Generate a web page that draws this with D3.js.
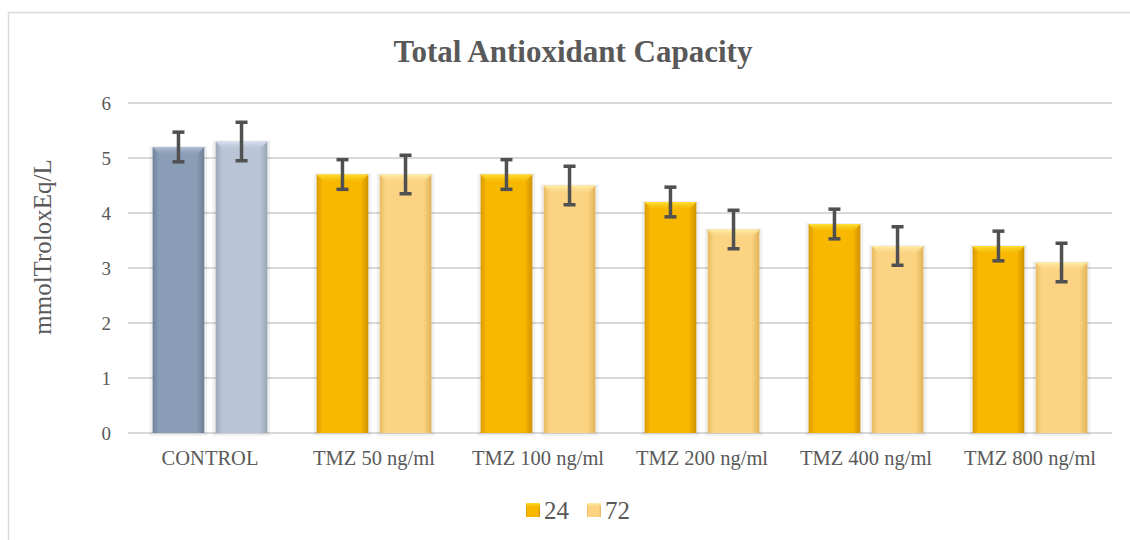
<!DOCTYPE html>
<html>
<head>
<meta charset="utf-8">
<script src="https://cdn.jsdelivr.net/npm/d3@7"></script>
<style>
  body { margin: 0; background: #fff; }
  text { font-family: "Liberation Serif", "Times New Roman", serif; fill: #595959; }
</style>
</head>
<body>
<div id="chart"></div>
<script>
// data
var categories = ["CONTROL", "TMZ 50 ng/ml", "TMZ 100 ng/ml", "TMZ 200 ng/ml", "TMZ 400 ng/ml", "TMZ 800 ng/ml"];
var series = ["24", "72"];
var values24 = [5.2, 4.7, 4.7, 4.2, 3.8, 3.4];
var values72 = [5.3, 4.7, 4.5, 3.7, 3.4, 3.1];
var errors24 = [0.27, 0.27, 0.27, 0.27, 0.27, 0.27];
var errors72 = [0.35, 0.35, 0.35, 0.35, 0.35, 0.35];
var yTicks = [0, 1, 2, 3, 4, 5, 6];

var w = 1130, h = 540;

var svg = d3.select("#chart").append("svg")
    .attr("width", w)
    .attr("height", h);

// gradients for the bevelled bars
var defs = svg.append("defs");
var palettes = {
    c24: ["#6f829b", "#8a9db6", "#6d7f96"],
    c72: ["#9aa7b9", "#b9c5d7", "#99a5b6"],
    g24: ["#d99a00", "#f8b800", "#cf9200"],
    g72: ["#e9bb62", "#fbd382", "#e2b25a"]
};
var tops = { c24: "#b4c3d6", c72: "#dce4ef", g24: "#ffe23a", g72: "#fff0a8" };
Object.keys(palettes).forEach(function(k) {
    var g = defs.append("linearGradient").attr("id", "side-" + k)
        .attr("x1", 0).attr("x2", 1).attr("y1", 0).attr("y2", 0);
    g.append("stop").attr("offset", "0%").attr("stop-color", palettes[k][0]);
    g.append("stop").attr("offset", "12%").attr("stop-color", palettes[k][1]);
    g.append("stop").attr("offset", "85%").attr("stop-color", palettes[k][1]);
    g.append("stop").attr("offset", "100%").attr("stop-color", palettes[k][2]);
    var t = defs.append("linearGradient").attr("id", "top-" + k)
        .attr("x1", 0).attr("x2", 0).attr("y1", 0).attr("y2", 1);
    t.append("stop").attr("offset", "0%").attr("stop-color", tops[k]);
    t.append("stop").attr("offset", "100%").attr("stop-color", palettes[k][1]).attr("stop-opacity", 0);
});

// outer frame
svg.append("rect")
    .attr("x", 8.5).attr("y", 12.5)
    .attr("width", w).attr("height", h)
    .attr("fill", "none")
    .attr("stroke", "#d9d9d9")
    .attr("stroke-width", 1.5);

var x = d3.scaleBand().domain(categories).range([128, 1112])
    .paddingInner(0.3).paddingOuter(0.15);
var xs = d3.scaleBand().domain(series).range([0, x.bandwidth()]).paddingInner(0.18);
var y = d3.scaleLinear().domain([0, 6]).range([433, 103]);

// grid
svg.append("g").selectAll("line").data(yTicks).enter().append("line")
    .attr("x1", 128).attr("x2", 1112)
    .attr("y1", function(d) { return y(d); })
    .attr("y2", function(d) { return y(d); })
    .attr("stroke", "#d9d9d9")
    .attr("stroke-width", 2);

// y axis labels
var yAxis = svg.append("g").attr("transform", "translate(111,0)")
    .call(d3.axisLeft(y).tickValues(yTicks).tickFormat(d3.format("d")).tickSize(0).tickPadding(0));
yAxis.select(".domain").remove();
yAxis.selectAll("text").attr("font-size", 19).attr("fill", "#595959")
    .style("font-family", "Liberation Serif");

// x axis labels
var xAxis = svg.append("g").attr("transform", "translate(0,450)")
    .call(d3.axisBottom(x).tickSize(0).tickPadding(0));
xAxis.select(".domain").remove();
xAxis.selectAll("text").attr("font-size", 20.5).attr("fill", "#595959")
    .style("font-family", "Liberation Serif");

// bars
var rows = [];
categories.forEach(function(c, i) {
    var grp = i === 0 ? "c" : "g";
    rows.push({ cat: c, s: "24", v: values24[i], e: errors24[i], k: grp + "24" });
    rows.push({ cat: c, s: "72", v: values72[i], e: errors72[i], k: grp + "72" });
});

var bars = svg.append("g").selectAll("g").data(rows).enter().append("g")
    .attr("transform", function(d) { return "translate(" + (x(d.cat) + xs(d.s)) + ",0)"; });

var bw = xs.bandwidth();

// soft shadow
bars.append("rect")
    .attr("x", -3).attr("width", bw + 6)
    .attr("y", function(d) { return y(d.v) - 1; })
    .attr("height", function(d) { return y(0) - y(d.v) + 4; })
    .attr("fill", "#000").attr("opacity", 0.06);

bars.append("rect")
    .attr("x", 0).attr("width", bw)
    .attr("y", function(d) { return y(d.v); })
    .attr("height", function(d) { return y(0) - y(d.v); })
    .attr("fill", function(d) { return "url(#side-" + d.k + ")"; });

bars.append("path")
    .attr("d", function(d) {
        var t = y(d.v);
        return "M0," + t + "H" + bw + "L" + (bw - 8) + "," + (t + 9) + "H8Z";
    })
    .attr("fill", function(d) { return "url(#top-" + d.k + ")"; });

// error bars
var err = bars.append("g").attr("stroke", "#505050").attr("stroke-width", 3.5);
err.append("line")
    .attr("x1", bw / 2).attr("x2", bw / 2)
    .attr("y1", function(d) { return y(d.v + d.e); })
    .attr("y2", function(d) { return y(d.v - d.e); });
err.append("line")
    .attr("x1", bw / 2 - 6).attr("x2", bw / 2 + 6)
    .attr("y1", function(d) { return y(d.v + d.e); })
    .attr("y2", function(d) { return y(d.v + d.e); });
err.append("line")
    .attr("x1", bw / 2 - 6).attr("x2", bw / 2 + 6)
    .attr("y1", function(d) { return y(d.v - d.e); })
    .attr("y2", function(d) { return y(d.v - d.e); });

// title
svg.append("text")
    .attr("x", 573).attr("y", 62)
    .attr("text-anchor", "middle")
    .attr("font-size", 31).attr("font-weight", "bold")
    .text("Total Antioxidant Capacity");

// y title
svg.append("text")
    .attr("transform", "translate(51,247) rotate(-90)")
    .attr("text-anchor", "middle")
    .attr("font-size", 25)
    .text("mmolTroloxEq/L");

// legend
var legend = svg.append("g").selectAll("g").data(series).enter().append("g")
    .attr("transform", function(d, i) { return "translate(" + (526 + i * 61) + ",503)"; });
legend.append("rect")
    .attr("width", 14).attr("height", 14)
    .attr("fill", function(d) { return "url(#side-g" + d + ")"; });
legend.append("rect")
    .attr("width", 14).attr("height", 5)
    .attr("fill", function(d) { return "url(#top-g" + d + ")"; });
legend.append("text")
    .attr("x", 18).attr("y", 16)
    .attr("font-size", 25)
    .text(function(d) { return d; });
</script>
</body>
</html>
